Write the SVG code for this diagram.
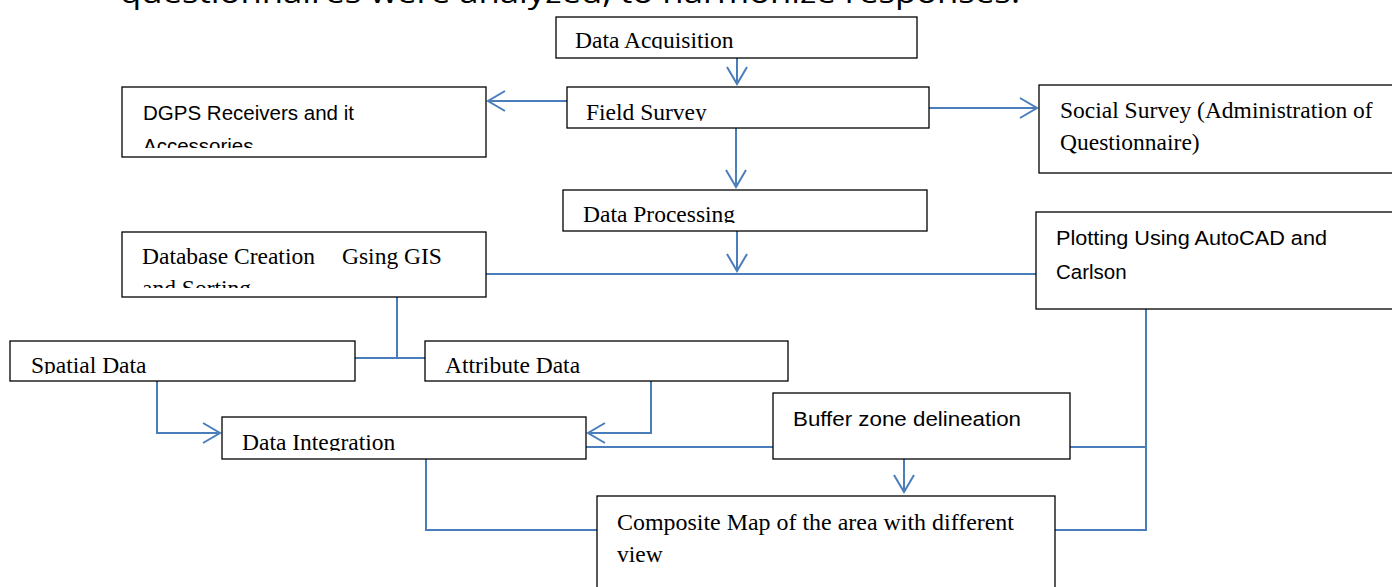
<svg xmlns="http://www.w3.org/2000/svg" width="1392" height="587" viewBox="0 0 1392 587">
<style>
.box{fill:#fff;stroke:#000;stroke-width:1.3}
.tr{font-family:"Liberation Serif","Times New Roman",serif;font-size:23.5px;fill:#000}
.ts{font-family:"Liberation Sans",Arial,sans-serif;font-size:20.5px;fill:#000}
.c{fill:none;stroke:#4a7ebb;stroke-width:2}
</style>
<defs>
<marker id="arr" markerUnits="userSpaceOnUse" markerWidth="22" markerHeight="24" viewBox="0 0 22 24" refX="19" refY="12" orient="auto">
<path d="M2,2 L19,12 L2,22" fill="none" stroke="#4a7ebb" stroke-width="2"/>
</marker>
<clipPath id="cAcq"><rect x="556" y="17" width="361" height="32"/></clipPath>
<clipPath id="cField"><rect x="567" y="87" width="362" height="34"/></clipPath>
<clipPath id="cDGPS"><rect x="122" y="87" width="364" height="61"/></clipPath>
<clipPath id="cProc"><rect x="563" y="190" width="364" height="33"/></clipPath>
<clipPath id="cDb"><rect x="122" y="232" width="364" height="56"/></clipPath>
<clipPath id="cSpat"><rect x="10" y="341" width="345" height="33"/></clipPath>
<clipPath id="cInt"><rect x="222" y="417" width="364" height="34"/></clipPath>
</defs>
<text x="120" y="3" font-family="'Open Sans','Liberation Sans',sans-serif" font-size="30" fill="#000" textLength="900" lengthAdjust="spacingAndGlyphs">questionnaires were analyzed, to harmonize responses.</text>
<g id="connectors">
<path class="c" d="M737,58 V84" marker-end="url(#arr)"/>
<path class="c" d="M567,101 H488" marker-end="url(#arr)"/>
<path class="c" d="M929,108 H1037" marker-end="url(#arr)"/>
<path class="c" d="M736,128 V187" marker-end="url(#arr)"/>
<path class="c" d="M737,231 V271" marker-end="url(#arr)"/>
<path class="c" d="M486,274 H1036"/>
<path class="c" d="M397,297 V358 M355,358 H425"/>
<path class="c" d="M157,381 V433 H220" marker-end="url(#arr)"/>
<path class="c" d="M651,381 V433 H588" marker-end="url(#arr)"/>
<path class="c" d="M585,447 H773"/>
<path class="c" d="M1070,447 H1146"/>
<path class="c" d="M1146,295 V530 H1020"/>
<path class="c" d="M426,459 V530 H597"/>
<path class="c" d="M904,459 V492" marker-end="url(#arr)"/>
</g>
<g id="data-acquisition">
<rect class="box" x="556" y="17" width="361" height="41"/>
<text class="tr" x="575" y="48" clip-path="url(#cAcq)">Data Acquisition</text>
</g>
<g id="field-survey">
<rect class="box" x="567" y="87" width="362" height="41"/>
<text class="tr" x="586" y="120" clip-path="url(#cField)">Field Survey</text>
</g>
<g id="dgps">
<rect class="box" x="122" y="87" width="364" height="70"/>
<g clip-path="url(#cDGPS)">
<text class="ts" x="143" y="120" textLength="211" lengthAdjust="spacingAndGlyphs">DGPS Receivers and it</text>
<text class="ts" x="143" y="153">Accessories</text>
</g>
</g>
<g id="social-survey">
<rect class="box" x="1039" y="85" width="360" height="88"/>
<text class="tr" x="1060" y="118">Social Survey (Administration of</text>
<text class="tr" x="1060" y="150">Questionnaire)</text>
</g>
<g id="data-processing">
<rect class="box" x="563" y="190" width="364" height="41"/>
<text class="tr" x="583" y="222" clip-path="url(#cProc)">Data Processing</text>
</g>
<g id="database-creation">
<rect class="box" x="122" y="232" width="364" height="65"/>
<g clip-path="url(#cDb)">
<text class="tr" x="142" y="264">Database Creation</text>
<text class="tr" x="342" y="264">Gsing GIS</text>
<text class="tr" x="142" y="296">and Sorting</text>
</g>
</g>
<g id="plotting">
<rect class="box" x="1036" y="212" width="360" height="97"/>
<text class="ts" x="1056" y="245" textLength="271" lengthAdjust="spacingAndGlyphs">Plotting Using AutoCAD and</text>
<text class="ts" x="1056" y="279">Carlson</text>
</g>
<g id="spatial-data">
<rect class="box" x="10" y="341" width="345" height="40"/>
<text class="tr" x="31" y="373" clip-path="url(#cSpat)">Spatial Data</text>
</g>
<g id="attribute-data">
<rect class="box" x="425" y="341" width="363" height="40"/>
<text class="tr" x="445" y="373">Attribute Data</text>
</g>
<g id="data-integration">
<rect class="box" x="222" y="417" width="364" height="42"/>
<text class="tr" x="242" y="450" clip-path="url(#cInt)">Data Integration</text>
</g>
<g id="buffer-zone">
<rect class="box" x="773" y="393" width="297" height="66"/>
<text class="ts" x="793" y="426" textLength="228" lengthAdjust="spacingAndGlyphs">Buffer zone delineation</text>
</g>
<g id="composite-map">
<rect class="box" x="597" y="496" width="458" height="100"/>
<text class="tr" x="617" y="530" textLength="397" lengthAdjust="spacingAndGlyphs">Composite Map of the area with different</text>
<text class="tr" x="617" y="562">view</text>
</g>
</svg>
